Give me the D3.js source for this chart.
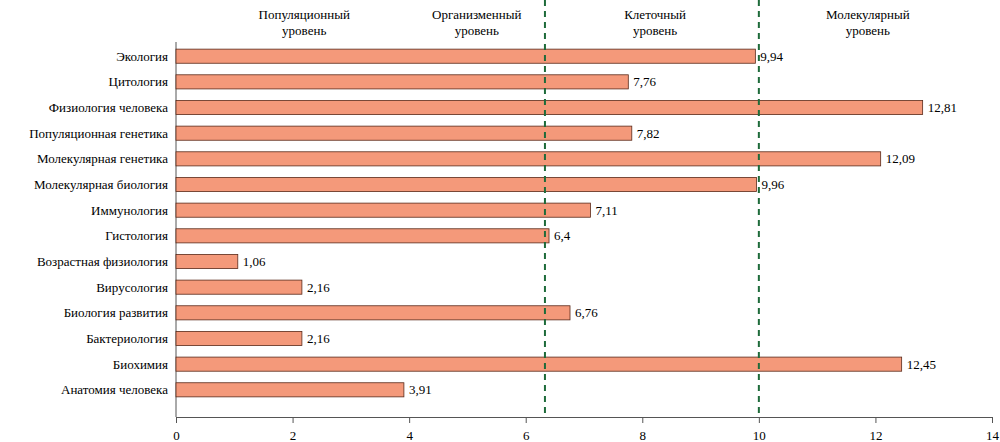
<!DOCTYPE html>
<html><head><meta charset="utf-8">
<script src="https://cdn.jsdelivr.net/npm/d3@7"></script>
<style>body{margin:0;background:#fff}text{font-family:"Liberation Serif","Times New Roman",serif;font-size:13px;fill:#000}</style>
</head><body><svg id="c" width="1000" height="442"></svg>
<script>
const categories = ["Экология","Цитология","Физиология человека","Популяционная генетика","Молекулярная генетика","Молекулярная биология","Иммунология","Гистология","Возрастная физиология","Вирусология","Биология развития","Бактериология","Биохимия","Анатомия человека"];
const values = [9.94,7.76,12.81,7.82,12.09,9.96,7.11,6.4,1.06,2.16,6.76,2.16,12.45,3.91];
const xTicks = [0,2,4,6,8,10,12,14];
const levelLines = [6.33,10];
const levels = [["Популяционный","уровень",2.2],["Организменный","уровень",5.16],["Клеточный","уровень",8.22],["Молекулярный","уровень",11.87]];

const svg = d3.select("#c");
const x = d3.scaleLinear().domain([0,14]).range([176,992]);
const y = d3.scaleBand().domain(categories).range([44,402]).paddingInner(0.45).paddingOuter(0.2);
const fmt = v => String(v).replace(".", ",");

const ax = svg.append("g").attr("transform","translate(0,417)")
  .call(d3.axisBottom(x).tickValues(xTicks).tickSize(6).tickFormat(d => d));
ax.select(".domain").attr("stroke","#555");
ax.selectAll("line").attr("stroke","#555");
ax.selectAll("text").attr("dy","1.1em").style("font-size","13px");

svg.append("line").attr("x1",176).attr("x2",176).attr("y1",42).attr("y2",417).attr("stroke","#555");

svg.selectAll(".lab").data(categories).enter().append("text")
  .attr("x",168).attr("y",d => y(d)+y.bandwidth()/2).attr("dy","0.35em")
  .attr("text-anchor","end").text(d => d);

svg.selectAll(".bar").data(values).enter().append("rect")
  .attr("x",x(0)).attr("y",(d,i) => y(categories[i]))
  .attr("width",d => x(d)-x(0)).attr("height",y.bandwidth())
  .attr("fill","#F4997A").attr("stroke","#5a2a1a").attr("stroke-width",0.8);

svg.selectAll(".val").data(values).enter().append("text")
  .attr("x",d => x(d)+5).attr("y",(d,i) => y(categories[i])+y.bandwidth()/2).attr("dy","0.35em")
  .text(d => fmt(d));

svg.selectAll(".lv").data(levelLines).enter().append("line")
  .attr("x1",d => x(d)).attr("x2",d => x(d)).attr("y1",0).attr("y2",417)
  .attr("stroke","#1e6b3a").attr("stroke-width",2).attr("stroke-dasharray","6,5");

levels.forEach(l => {
  const t = svg.append("text").attr("x",x(l[2])).attr("y",19).attr("text-anchor","middle");
  t.append("tspan").attr("x",x(l[2])).text(l[0]);
  t.append("tspan").attr("x",x(l[2])).attr("dy",16).text(l[1]);
});
</script></body></html>
